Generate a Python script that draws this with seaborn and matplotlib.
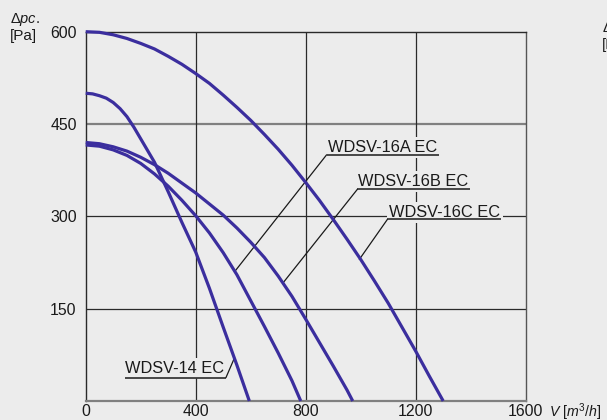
import matplotlib
matplotlib.use("Agg")
import matplotlib.pyplot as plt
import seaborn as sns
import pandas as pd

# ---- data ----
flow_14 = [0, 25, 50, 75, 100, 125, 150, 175, 200, 250, 300, 350, 400, 450, 500, 550, 595]
dp_14 = [500, 499, 496, 492, 485, 475, 462, 445, 426, 388, 340, 290, 242, 183, 120, 58, 0]

flow_16a = [0, 50, 100, 150, 200, 250, 300, 350, 400, 450, 500, 550, 600, 650, 700, 750, 782]
dp_16a = [416, 414, 408, 399, 386, 369, 349, 326, 301, 273, 241, 205, 163, 121, 78, 33, 0]

flow_16b = [0, 50, 100, 150, 200, 250, 300, 350, 400, 450, 500, 550, 600, 650, 700, 750, 800, 850, 900, 950, 971]
dp_16b = [420, 418, 413, 406, 396, 384, 370, 354, 338, 320, 302, 281, 258, 233, 203, 170, 133, 95, 57, 18, 0]

flow_16c = [0, 50, 100, 150, 200, 250, 300, 350, 400, 450, 500, 550, 600, 650, 700,
            750, 800, 850, 900, 950, 1000, 1050, 1100, 1150, 1200, 1250, 1300]
dp_16c = [600, 599, 595, 589, 581, 572, 560, 547, 532, 516, 497, 477, 456, 433, 409,
          383, 355, 326, 295, 263, 230, 195, 159, 120, 81, 40, 0]

model_names = ["WDSV-14 EC", "WDSV-16A EC", "WDSV-16B EC", "WDSV-16C EC"]
x_ticks = [0, 400, 800, 1200, 1600]
y_ticks = [150, 300, 450, 600]
y_tick_labels = ["150", "300", "450", "600"]

# label anchors (data units)
label_text_x = [143, 882, 991, 1104]
label_text_y = [46, 405, 349, 299]
label_line_y = [38, 400, 344, 295]
label_line_x0 = [143, 876, 988, 1097]
label_line_x1 = [510, 1285, 1397, 1509]
leader_x = [539, 543, 716, 995]
leader_y = [68, 211, 191, 230]

df = pd.concat([
    pd.DataFrame({"flow": flow_14, "dp": dp_14, "model": model_names[0]}),
    pd.DataFrame({"flow": flow_16a, "dp": dp_16a, "model": model_names[1]}),
    pd.DataFrame({"flow": flow_16b, "dp": dp_16b, "model": model_names[2]}),
    pd.DataFrame({"flow": flow_16c, "dp": dp_16c, "model": model_names[3]}),
])

sns.set_theme(style="white")
plt.rcParams['font.family'] = ['Liberation Sans', 'DejaVu Sans']
plt.rcParams['mathtext.fontset'] = 'custom'
plt.rcParams['mathtext.rm'] = 'Liberation Sans'
plt.rcParams['mathtext.it'] = 'Liberation Sans:italic'

BG = '#ececec'
CURVE = '#3b2e9e'
DARK = '#2a2a2a'
GRAY = '#808080'
TXT = '#1a1a1a'

fig = plt.figure(figsize=(6.07, 4.20), dpi=100, facecolor=BG)
ax = fig.add_axes([85.7 / 607, 1 - 401 / 420, 440 / 607, 369.3 / 420])
ax.set_facecolor(BG)

# grid
for yv in [150, 300]:
    ax.axhline(yv, color=DARK, lw=0.9, zorder=1)
ax.axhline(450, color=GRAY, lw=1.6, zorder=1)
for xv in [400, 800, 1200]:
    ax.axvline(xv, color=DARK, lw=0.9, zorder=1)

sns.lineplot(data=df, x="flow", y="dp", hue="model", units="model", estimator=None,
             sort=False, palette=[CURVE] * 4, legend=False, lw=2.3, ax=ax,
             zorder=5, clip_on=False)
for ln in ax.lines:
    ln.set_solid_capstyle('butt')
    ln.set_solid_joinstyle('round')

# labels with underline and leader
for i, name in enumerate(model_names):
    ax.text(label_text_x[i], label_text_y[i], name, fontsize=11.8, color=TXT,
            ha='left', va='baseline', zorder=3,
            bbox=dict(facecolor=BG, edgecolor='none', pad=2.0))
    ax.plot([label_line_x0[i], label_line_x1[i]], [label_line_y[i], label_line_y[i]],
            color='#3a3a3a', lw=1.3, zorder=4, solid_capstyle='butt')
    start_x = label_line_x1[i] if i == 0 else label_line_x0[i]
    ax.plot([start_x, leader_x[i]], [label_line_y[i], leader_y[i]],
            color=TXT, lw=0.9, zorder=4)

ax.set_xlim(0, 1600)
ax.set_ylim(0, 600)
ax.set_xticks(x_ticks)
ax.set_xticklabels([str(v) for v in x_ticks])
ax.set_yticks(y_ticks)
ax.set_yticklabels(y_tick_labels)
ax.set_xlabel("")
ax.set_ylabel("")
ax.tick_params(axis='both', length=0, labelsize=11.4, labelcolor=TXT)
ax.tick_params(axis='x', pad=2.5)
ax.tick_params(axis='y', pad=6.5)

ax.spines['top'].set_color(DARK)
ax.spines['left'].set_color(DARK)
ax.spines['right'].set_color('#555555')
ax.spines['bottom'].set_color(GRAY)
ax.spines['bottom'].set_linewidth(1.6)
for s in ['top', 'left', 'right']:
    ax.spines[s].set_linewidth(1.0)

# axis titles
fig.text(10 / 607, 1 - 23.5 / 420, "Δ$\\mathit{pc.}$", fontsize=10.5, color=TXT,
         ha='left', va='baseline')
fig.text(10 / 607, 1 - 40 / 420, "[Pa]", fontsize=11, color=TXT,
         ha='left', va='baseline')
fig.text(549 / 607, 1 - 412 / 420, "$\\mathit{V}$ $\\mathit{[m^3/h]}$", fontsize=10.2,
         color=TXT, ha='left', va='center')
# partial title of the neighbouring chart at the right edge
fig.text(602 / 607, 1 - 32 / 420, "Δ$\\mathit{pc.}$", fontsize=10.5, color=TXT,
         ha='left', va='baseline')
fig.text(602 / 607, 1 - 49 / 420, "[Pa]", fontsize=11, color=TXT,
         ha='left', va='baseline')

fig.savefig("out.png", dpi=100, facecolor=BG)
